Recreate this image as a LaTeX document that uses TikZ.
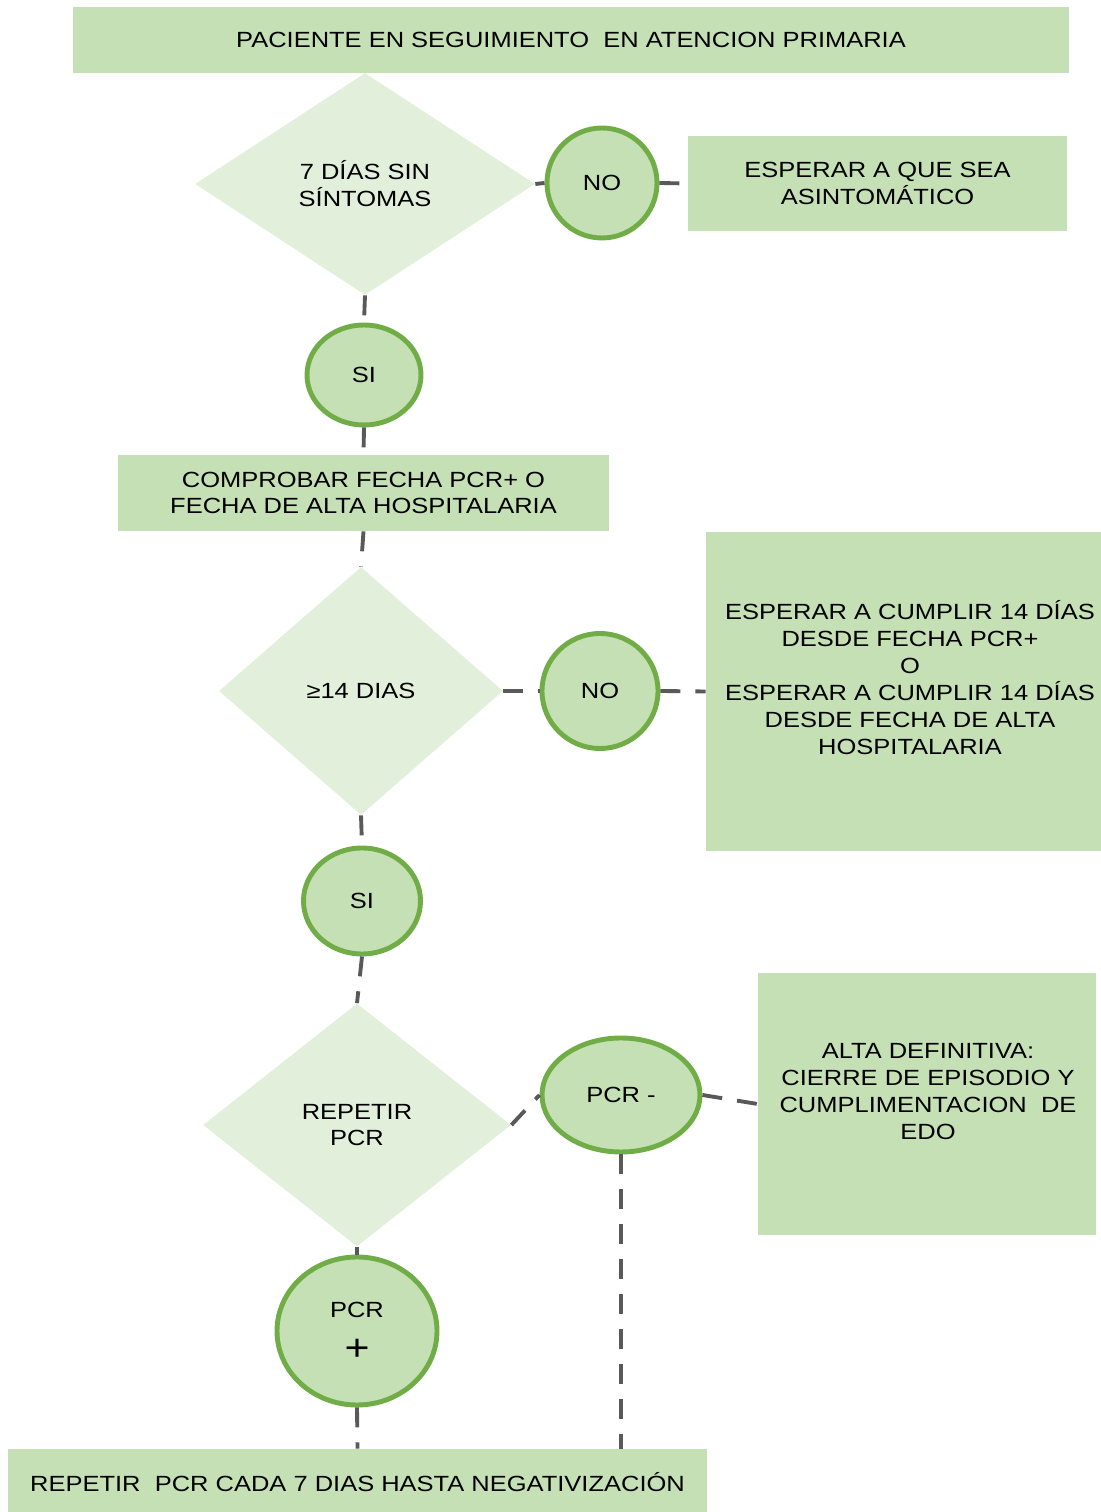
\documentclass[tikz,border=0pt]{standalone}
\usepackage{fontspec}
\setmainfont{Liberation Sans}[FakeStretch=1.16]
\usepackage{tikz}
\usetikzlibrary{shapes,positioning,calc}
\usepackage{xcolor}

\definecolor{boxgreen}{HTML}{C5E0B4}
\definecolor{lightgreen}{HTML}{E2EFDA}
\definecolor{ringgreen}{HTML}{70AD47}
\definecolor{linkgray}{HTML}{595959}

\begin{document}
\begin{tikzpicture}[
    font=\fontsize{12.5}{15.3}\selectfont,
    box/.style={rectangle, fill=boxgreen, inner sep=0pt, align=center},
    decision/.style={diamond, fill=lightgreen, inner sep=0pt, align=center},
    answer/.style={ellipse, draw=ringgreen, line width=2.8pt, fill=boxgreen,
                   inner sep=0pt, align=center},
    link/.style={draw=linkgray, line width=2.2pt, dash pattern=on 0.4cm off 0.3cm}
  ]
  \useasboundingbox (0,0) rectangle (22.02,30.24);

  % Start
  \node[box, minimum width=19.92cm, minimum height=1.32cm] (start) at (11.42, 29.44)
    {PACIENTE EN SEGUIMIENTO\ \ EN ATENCION PRIMARIA};

  % First check: symptoms
  \node[decision, minimum width=6.8cm, minimum height=4.44cm] (sympt) at (7.30, 26.56)
    {7 DÍAS SIN\\SÍNTOMAS};
  \node[answer, minimum width=2.2cm, minimum height=2.2cm] (no_sympt) at (12.04, 26.58) {NO};
  \node[box, minimum width=7.58cm, minimum height=1.9cm] (wait_asym) at (17.55, 26.57)
    {ESPERAR A QUE SEA\\ASINTOMÁTICO};
  \node[answer, minimum width=2.28cm, minimum height=2.0cm] (si_sympt) at (7.28, 22.74) {SI};
  \node[box, minimum width=9.82cm, minimum height=1.52cm] (check) at (7.27, 20.38)
    {COMPROBAR FECHA PCR+ O\\FECHA DE ALTA HOSPITALARIA};

  % Second check: 14 days
  \node[decision, minimum width=5.68cm, minimum height=4.96cm] (days) at (7.22, 16.42)
    {≥14 DIAS};
  \node[answer, minimum width=2.32cm, minimum height=2.3cm] (no_days) at (12.00, 16.42) {NO};
  \node[box, minimum width=7.9cm, minimum height=6.38cm] (wait_days) at (18.07, 16.41) {};
  \node[align=center, inner sep=0pt] (wait_days_txt) at (18.20, 16.69)
    {ESPERAR A CUMPLIR 14 DÍAS\\DESDE FECHA PCR+\\O\\ESPERAR A CUMPLIR 14 DÍAS\\
     DESDE FECHA DE ALTA\\HOSPITALARIA};
  \node[answer, minimum width=2.34cm, minimum height=2.12cm] (si_days) at (7.24, 12.22) {SI};

  % Repeat PCR
  \node[decision, minimum width=6.16cm, minimum height=4.86cm] (pcr) at (7.14, 7.74)
    {REPETIR\\PCR};
  \node[answer, minimum width=3.16cm, minimum height=2.28cm] (pcr_neg) at (12.42, 8.34) {PCR -};
  \node[box, minimum width=6.76cm, minimum height=5.24cm] (discharge) at (18.54, 8.16) {};
  \node[align=center, inner sep=0pt] (discharge_txt) at (18.56, 8.41)
    {ALTA DEFINITIVA:\\CIERRE DE EPISODIO Y\\CUMPLIMENTACION\ \ DE\\EDO};
  \node[answer, minimum width=3.2cm, minimum height=2.96cm] (pcr_pos) at (7.14, 3.62)
    {PCR\\[9pt]{\fontsize{21}{21}\selectfont +}};
  \node[box, minimum width=13.98cm, minimum height=1.32cm] (repeat) at (7.15, 0.60)
    {REPETIR\ \ PCR CADA 7 DIAS HASTA NEGATIVIZACIÓN};

  % Connectors
  \draw[link] (sympt.east) -- (no_sympt.west);
  \draw[link] (no_sympt.east) -- (wait_asym.west);
  \draw[link] (sympt.south) -- (si_sympt.north);
  \draw[link] (si_sympt.south) -- (check.north);
  \draw[link] (check.south) -- (days.north);
  \draw[link] (days.east) -- (no_days.west);
  \draw[link] (no_days.east) -- (wait_days.west);
  \draw[link] (days.south) -- (si_days.north);
  \draw[link] (si_days.south) -- (pcr.north);
  \draw[link] (pcr.east) -- (pcr_neg.west);
  \draw[link] (pcr_neg.east) -- (discharge.west);
  \draw[link] (pcr_neg.south) -- (pcr_neg.south |- repeat.north);
  \draw[link] (pcr.south) -- (pcr_pos.north);
  \draw[link] (pcr_pos.south) -- (repeat.north);

\end{tikzpicture}
\end{document}
